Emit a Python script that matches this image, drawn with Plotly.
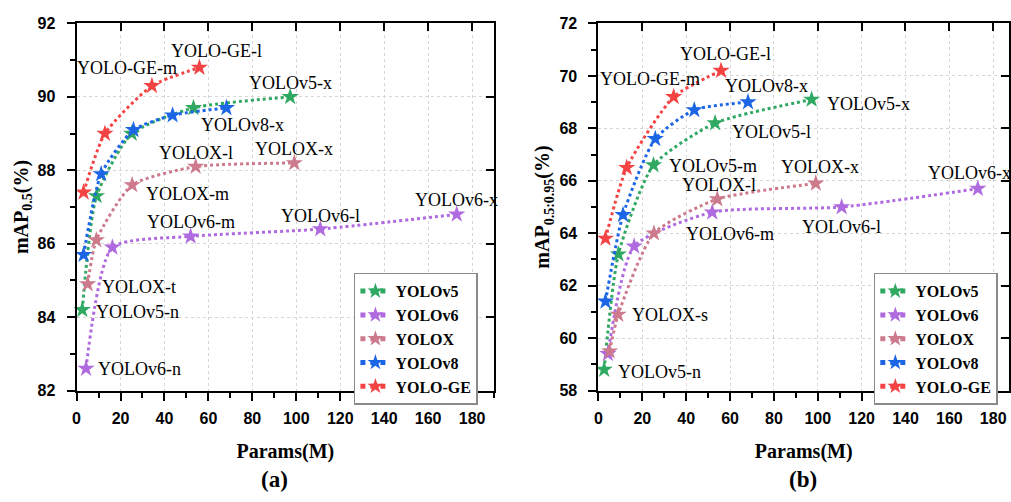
import plotly.graph_objects as go

# ---------------- data ----------------
series_names = ["YOLOv5", "YOLOv6", "YOLOX", "YOLOv8", "YOLO-GE"]
size_suffix = {
    "YOLOv5": ["n", "s", "m", "l", "x"],
    "YOLOv6": ["n", "s", "m", "l", "x"],
    "YOLOX": ["t", "s", "m", "l", "x"],
    "YOLOv8": ["n", "s", "m", "l", "x"],
    "YOLO-GE": ["n", "s", "m", "l"],
}
yolov5_params = [2.6, 9.1, 25.1, 53.2, 97.2]
yolov6_params = [4.3, 16.3, 51.9, 110.9, 173.0]
yolox_params = [5.06, 9.0, 25.3, 54.2, 99.1]
yolov8_params = [3.2, 11.2, 25.9, 43.7, 68.2]
yologe_params = [3.2, 12.9, 34.3, 55.9]

# mAP0.5 (%)
yolov5_map50 = [84.2, 87.3, 89.0, 89.7, 90.0]
yolov6_map50 = [82.6, 85.9, 86.2, 86.4, 86.8]
yolox_map50 = [84.9, 86.1, 87.6, 88.1, 88.2]
yolov8_map50 = [85.7, 87.9, 89.1, 89.5, 89.7]
yologe_map50 = [87.4, 89.0, 90.3, 90.8]

# mAP0.5:0.95 (%)
yolov5_map5095 = [58.8, 63.2, 66.6, 68.2, 69.1]
yolov6_map5095 = [59.4, 63.5, 64.8, 65.0, 65.7]
yolox_map5095 = [59.5, 60.9, 64.0, 65.3, 65.9]
yolov8_map5095 = [61.4, 64.7, 67.6, 68.7, 69.0]
yologe_map5095 = [63.8, 66.5, 69.2, 70.2]

x_ticks = [0, 20, 40, 60, 80, 100, 120, 140, 160, 180]
y_ticks_a = [82, 84, 86, 88, 90, 92]
y_ticks_b = [58, 60, 62, 64, 66, 68, 70, 72]

params = {"YOLOv5": yolov5_params, "YOLOv6": yolov6_params, "YOLOX": yolox_params,
          "YOLOv8": yolov8_params, "YOLO-GE": yologe_params}
map50 = {"YOLOv5": yolov5_map50, "YOLOv6": yolov6_map50, "YOLOX": yolox_map50,
         "YOLOv8": yolov8_map50, "YOLO-GE": yologe_map50}
map5095 = {"YOLOv5": yolov5_map5095, "YOLOv6": yolov6_map5095, "YOLOX": yolox_map5095,
           "YOLOv8": yolov8_map5095, "YOLO-GE": yologe_map5095}

# ---------------- styles ----------------
colors = {"YOLOv5": "#2fa862", "YOLOv6": "#b06ae0", "YOLOX": "#cc7a8c",
          "YOLOv8": "#1c66e6", "YOLO-GE": "#f44343"}
SERIF = "Liberation Serif"
SANS = "Liberation Sans"

fig = go.Figure()

for panel, data, xa, ya, leg in [("a", map50, "x", "y", "legend"),
                                 ("b", map5095, "x2", "y2", "legend2")]:
    for name in series_names:
        fig.add_trace(go.Scatter(
            x=params[name], y=data[name], name=f"<b>{name}</b>",
            mode="lines+markers", xaxis=xa, yaxis=ya, legend=leg,
            line=dict(color=colors[name], width=3, dash="dot", shape="spline",
                      smoothing=0.6),
            marker=dict(symbol="star", size=13, color=colors[name],
                        line=dict(width=0)),
            cliponaxis=False,
        ))

# dummy traces for the inward ticks on the top / right spines
for xa, ya in [("x3", "y"), ("x", "y3"), ("x4", "y2"), ("x2", "y4")]:
    fig.add_trace(go.Scatter(x=[], y=[], xaxis=xa, yaxis=ya, showlegend=False,
                             hoverinfo="skip"))

# ---------------- point labels ----------------
labels_a = [
    ("YOLO-GE", 3, "center", 17, -17),
    ("YOLO-GE", 2, "center", -25, -18),
    ("YOLOv5", 4, "center", 0, -14),
    ("YOLOv8", 4, "center", 16, 17),
    ("YOLOX", 3, "center", 0, -14),
    ("YOLOX", 4, "center", 0, -14),
    ("YOLOX", 2, "left", 12, 9),
    ("YOLOv6", 2, "center", 0, -14),
    ("YOLOv6", 3, "center", 0, -13),
    ("YOLOv6", 4, "center", 0, -14),
    ("YOLOX", 0, "left", 12, 3),
    ("YOLOv5", 0, "left", 12, 2),
    ("YOLOv6", 0, "left", 10, 0),
]
labels_b = [
    ("YOLO-GE", 3, "center", 4, -17),
    ("YOLO-GE", 2, "center", -24, -18),
    ("YOLOv8", 4, "center", 18, -16),
    ("YOLOv5", 4, "left", 13, 4),
    ("YOLOv5", 3, "left", 15, 9),
    ("YOLOv5", 2, "left", 13, 1),
    ("YOLOX", 4, "center", 4, -16),
    ("YOLOX", 3, "center", 2, -14),
    ("YOLOv6", 2, "center", 18, 22),
    ("YOLOv6", 3, "center", 0, 20),
    ("YOLOv6", 4, "center", -8, -16),
    ("YOLOX", 1, "left", 12, 0),
    ("YOLOv5", 0, "left", 12, 2),
]
annotations = []
for labels, data, xr, yr in [(labels_a, map50, "x", "y"), (labels_b, map5095, "x2", "y2")]:
    for name, i, anchor, dx, dy in labels:
        annotations.append(dict(
            x=params[name][i], y=data[name][i], xref=xr, yref=yr,
            text=f"{name}-{size_suffix[name][i]}", showarrow=False,
            xanchor=anchor, yanchor="middle", xshift=dx, yshift=-dy,
            font=dict(family=SERIF, size=18, color="black"),
        ))
annotations.append(dict(x=0.269, y=0.028, xref="paper", yref="paper", text="<b>(a)</b>",
                        showarrow=False, xanchor="center", yanchor="middle",
                        font=dict(family=SERIF, size=23, color="black")))
annotations.append(dict(x=0.795, y=0.028, xref="paper", yref="paper", text="<b>(b)</b>",
                        showarrow=False, xanchor="center", yanchor="middle",
                        font=dict(family=SERIF, size=23, color="black")))

# ---------------- axes ----------------
W, H = 1011, 502
ydom = [1 - 396 / H, 1 - 16 / H]
xdom_a = [73 / W, 493 / W]
xdom_b = [598 / W, 1.0]

tickfont = dict(family=SANS, size=16, color="black")
titlefont = dict(family=SERIF, size=20, color="black")


def bold(vals):
    return [f"<b>{v}</b>" for v in vals]


def main_x(domain, rng, anchor):
    return dict(domain=domain, range=rng, anchor=anchor, tickmode="array",
                tickvals=x_ticks, ticktext=bold(x_ticks),
                ticks="outside", ticklen=8, tickwidth=2, tickcolor="black",
                showline=True, linecolor="black", linewidth=2, mirror=True,
                showgrid=True, gridcolor="#d6d6d6", griddash="dot", gridwidth=1,
                zeroline=False, tickfont=tickfont, ticklabelstandoff=4,
                minor=dict(ticks="outside", ticklen=5, tickwidth=2, tickcolor="black",
                           dtick=10, tick0=0, showgrid=False),
                title=dict(text="<b>Params(M)</b>", font=titlefont, standoff=18))


def main_y(domain, rng, anchor, tv, title):
    return dict(domain=domain, range=rng, anchor=anchor, tickmode="array",
                tickvals=tv, ticktext=bold(tv),
                ticks="outside", ticklen=8, tickwidth=2, tickcolor="black",
                showline=True, linecolor="black", linewidth=2, mirror=True,
                showgrid=True, gridcolor="#d6d6d6", griddash="dot", gridwidth=1,
                zeroline=False, tickfont=tickfont, ticklabelstandoff=8,
                minor=dict(ticks="outside", ticklen=5, tickwidth=2, tickcolor="black",
                           dtick=1, tick0=0, showgrid=False),
                title=dict(text=title, font=titlefont, standoff=4))


def over_x(over, rng, anchor):
    return dict(overlaying=over, side="top", anchor=anchor, range=rng, tickmode="array",
                tickvals=x_ticks, ticks="inside", ticklen=8, tickwidth=2, tickcolor="black",
                showticklabels=False, showline=False, showgrid=False, zeroline=False)


def over_y(over, rng, anchor, tv):
    return dict(overlaying=over, side="right", anchor=anchor, range=rng, tickmode="array",
                tickvals=tv, ticks="inside", ticklen=8, tickwidth=2, tickcolor="black",
                showticklabels=False, showline=False, showgrid=False, zeroline=False)


xr_a = [0, 190]
xr_b = [0, 187.2]
yr_a = [82, 92]
yr_b = [58, 72]

legend_style = dict(xanchor="left", yanchor="top", bgcolor="white",
                    bordercolor="#8a8a8a", borderwidth=1.5, tracegroupgap=0,
                    itemsizing="constant",
                    font=dict(family=SERIF, size=16, color="black"))

fig.update_layout(
    width=W, height=H, margin=dict(l=0, r=0, t=0, b=0),
    paper_bgcolor="white", plot_bgcolor="white",
    xaxis=main_x(xdom_a, xr_a, "y"),
    yaxis=main_y(ydom, yr_a, "x", y_ticks_a, "<b>mAP<sub>0.5</sub>(%)</b>"),
    xaxis2=main_x(xdom_b, xr_b, "y2"),
    yaxis2=main_y(ydom, yr_b, "x2", y_ticks_b, "<b>mAP<sub>0.5:0.95</sub>(%)</b>"),
    xaxis3=over_x("x", xr_a, "y"),
    yaxis3=over_y("y", yr_a, "x", y_ticks_a),
    xaxis4=over_x("x2", xr_b, "y2"),
    yaxis4=over_y("y2", yr_b, "x2", y_ticks_b),
    legend=dict(x=352 / W, y=1 - 274 / H, **legend_style),
    legend2=dict(x=875 / W, y=1 - 274 / H, **legend_style),
    annotations=annotations,
    showlegend=True,
)

fig.write_html("out.html")
